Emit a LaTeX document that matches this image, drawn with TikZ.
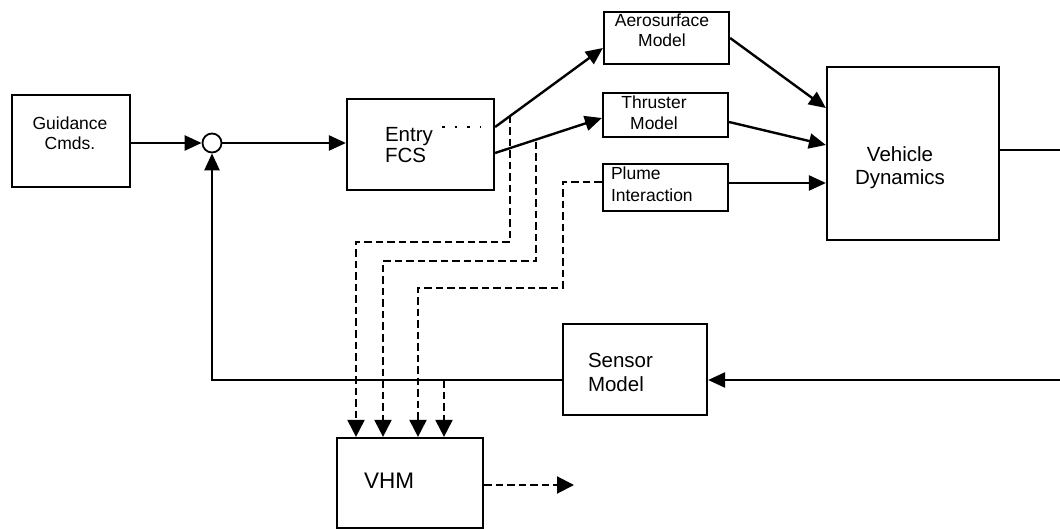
\documentclass[tikz,border=0pt]{standalone}
\usepackage{fontspec}
\setmainfont{Liberation Sans}
\usetikzlibrary{arrows.meta}
\newcommand{\mytwo}[3]{\begin{tabular}[t]{@{}#1@{}}#2\\#3\end{tabular}}
\newcommand{\myfs}[2]{\fontsize{#1}{#2}\selectfont}
\begin{document}
\begin{tikzpicture}[x=1pt,y=-1pt,
  blk/.style={draw, line width=2.2pt, inner sep=0pt, rectangle},
  txt/.style={inner sep=0pt, outer sep=0pt},
  sig/.style={line width=2.4pt, -{Triangle[length=17pt,width=15pt]}},
  wire/.style={line width=2.4pt},
  dsig/.style={line width=2pt, dash pattern=on 7.5pt off 4pt, -{Triangle[length=17pt,width=17pt]}},
  dotline/.style={line width=1.6pt, dash pattern=on 2.5pt off 10pt}]
\useasboundingbox (0,0) rectangle (1060,529);

% blocks
\node[blk, minimum width=118pt, minimum height=92pt] (gc) at (71,141) {};
\node[blk, minimum width=147pt, minimum height=91pt] (fcs) at (420.5,144.5) {};
\node[blk, minimum width=125pt, minimum height=52pt] (aero) at (666.5,38) {};
\node[blk, minimum width=125pt, minimum height=44pt] (thr) at (665.5,115) {};
\node[blk, minimum width=125pt, minimum height=47pt] (plume) at (665.5,187.5) {};
\node[blk, minimum width=172pt, minimum height=173pt] (veh) at (913,153.5) {};
\node[blk, minimum width=144pt, minimum height=91pt] (sen) at (635,369.5) {};
\node[blk, minimum width=146pt, minimum height=90pt] (vhm) at (410,483) {};
\node[draw, circle, line width=1.8pt, minimum size=19pt, inner sep=0pt] (sum) at (212,143) {};

% texts
\node[txt, anchor=base] (gct) at (70,130) {\myfs{17.5}{20}\mytwo{c}{Guidance}{Cmds.}};
\node[txt, anchor=base west] (fcst) at (385,142) {\myfs{20.5}{21}\mytwo{l}{Entry}{FCS}};
\node[txt, anchor=base] (aerot) at (662,27) {\myfs{17.5}{20}\mytwo{c}{Aerosurface}{Model}};
\node[txt, anchor=base] (thrt) at (654,109) {\myfs{17.5}{21}\mytwo{c}{Thruster}{Model}};
\node[txt, anchor=base west] (plumet) at (611,180) {\myfs{17.5}{22}\mytwo{l}{Plume}{Interaction}};
\node[txt, anchor=base] (veht) at (900,162) {\myfs{20.5}{23}\mytwo{c}{Vehicle}{Dynamics}};
\node[txt, anchor=base west] (sent) at (588,367) {\myfs{20.5}{24}\mytwo{l}{Sensor}{Model}};
\node[txt, anchor=base west] (vhmt) at (364,488) {\myfs{22.5}{24}VHM};

% coordinates
\coordinate (fb) at (212,380);
\coordinate (outR) at (1064,150);
\coordinate (inR) at (1064,380);
\coordinate (d1s) at (510,116);
\coordinate (d1c) at (356,242);
\coordinate (d2s) at (536,142);
\coordinate (d2c) at (383,261);
\coordinate (d3k) at (563,288);
\coordinate (d3c) at (418,288);
\coordinate (d4s) at (444,380);
\coordinate (vout) at (574,485);
\coordinate (dot1) at (442,127);
\coordinate (dot2) at (480,127);

% solid signals
\draw[sig] (gc.east |- sum.west) -- (sum.west);
\draw[sig] (sum.east) -- (sum.east -| fcs.west);
\draw[sig] (fcs.east |- 0,127) -- (aero.west |- 0,48);
\draw[sig] (fcs.east |- 0,153) -- (thr.west |- 0,118);
\draw[sig] (aero.east |- 0,38) -- (veh.west |- 0,108);
\draw[sig] (thr.east |- 0,122) -- (veh.west |- 0,145);
\draw[sig] (plume.east |- 0,183) -- (veh.west |- 0,183);
\draw[wire] (veh.east |- outR) -- (outR);
\draw[sig] (inR) -- (sen.east |- inR);
\draw[sig] (sen.west |- fb) -- (fb) -- (sum.south);

% dashed signals to VHM
\draw[dotline] (dot1) -- (dot2);
\draw[dsig] (d1s) |- (d1c) -- (d1c |- vhm.north);
\draw[dsig] (d2s) |- (d2c) -- (d2c |- vhm.north);
\draw[dsig] (plume.west |- 0,182) -| (d3k) -- (d3c) -- (d3c |- vhm.north);
\draw[dsig] (d4s) -- (d4s |- vhm.north);
\draw[dsig] (vhm.east |- vout) -- (vout);
\end{tikzpicture}
\end{document}
